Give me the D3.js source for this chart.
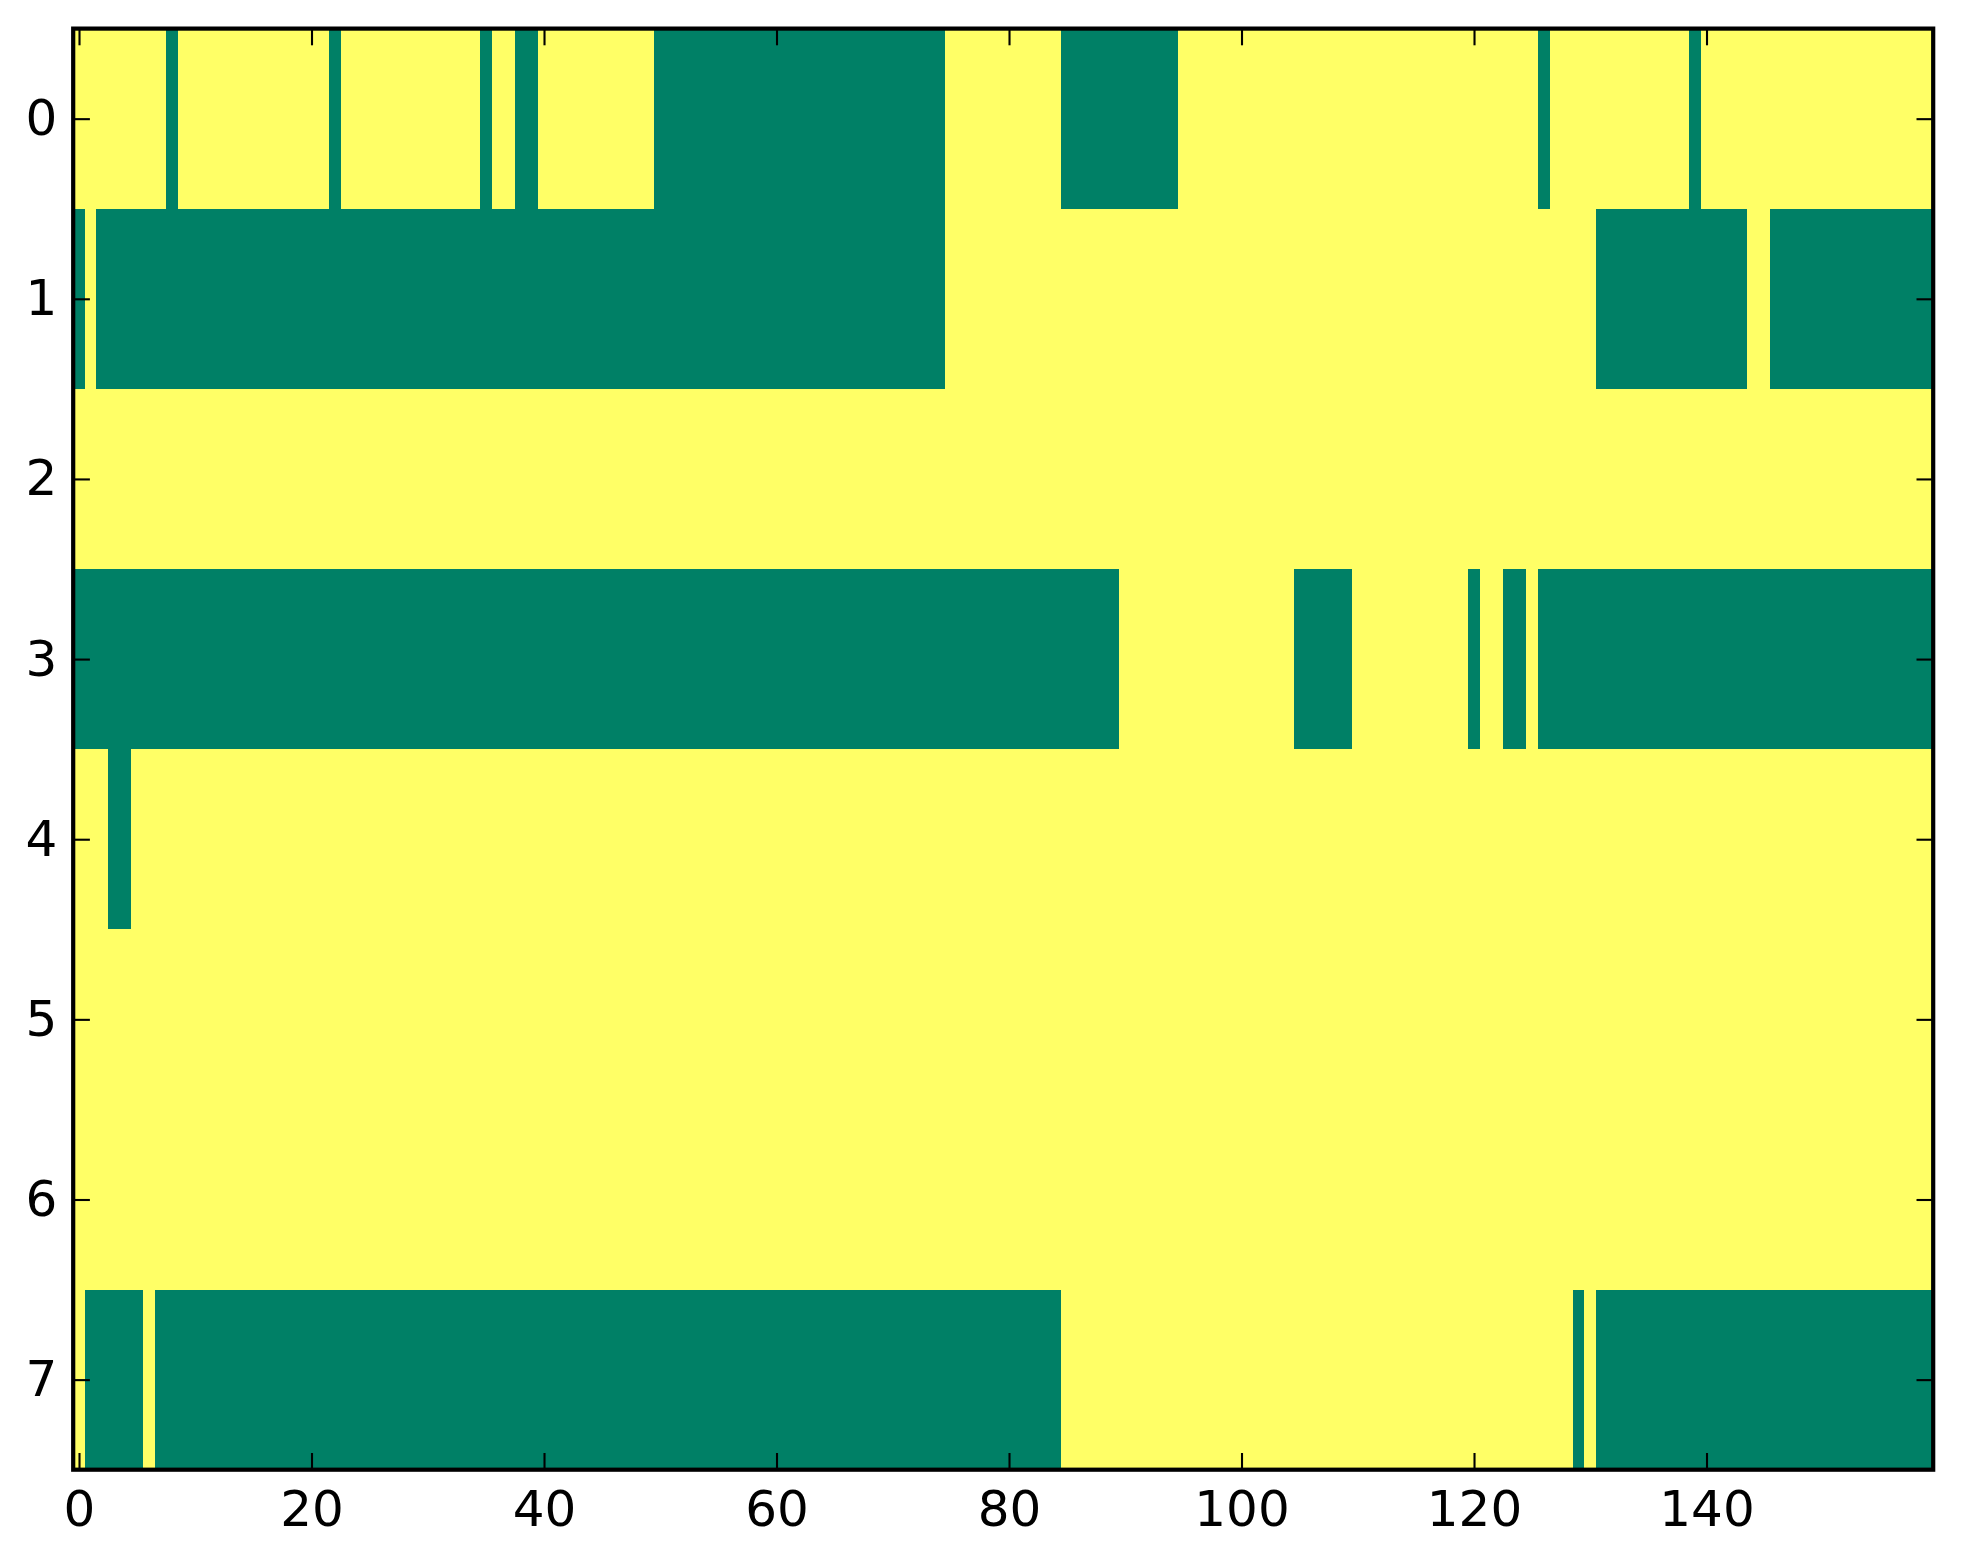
<!DOCTYPE html>
<html>
<head>
<meta charset="utf-8">
<script src="https://cdn.jsdelivr.net/npm/d3@7"></script>
<style>
  body { margin: 0; background: #ffffff; }
  text { font-family: "DejaVu Sans", sans-serif; }
</style>
</head>
<body>
<div id="chart"></div>
<script>
// Matrix size
var nRows = 8;
var nCols = 160;

// Tick labels
var xTicks = [0, 20, 40, 60, 80, 100, 120, 140];
var yTicks = [0, 1, 2, 3, 4, 5, 6, 7];

// Cells equal to 0 (green), as [first, last] column runs per row; everything else is 1 (yellow)
var row0Runs = [[8, 8], [22, 22], [35, 35], [38, 39], [50, 74], [85, 94], [126, 126], [139, 139]];
var row1Runs = [[0, 0], [2, 74], [131, 143], [146, 159]];
var row2Runs = [];
var row3Runs = [[0, 89], [105, 109], [120, 120], [123, 124], [126, 159]];
var row4Runs = [[3, 4]];
var row5Runs = [];
var row6Runs = [];
var row7Runs = [[1, 5], [7, 84], [129, 129], [131, 159]];

var allRuns = [row0Runs, row1Runs, row2Runs, row3Runs, row4Runs, row5Runs, row6Runs, row7Runs];

// Build the cell list from the runs
var cells = [];
allRuns.forEach(function(runs, r) {
  for (var c = 0; c < nCols; c++) {
    var v = 1;
    runs.forEach(function(run) {
      if (c >= run[0] && c <= run[1]) v = 0;
    });
    cells.push({row: r, col: c, value: v});
  }
});

// SVG size
var svgWidth = 1963;
var svgHeight = 1564;

var plot = {left: 73.2, right: 1933.2, top: 28.6, bottom: 1469.7};

var svg = d3.select("#chart")
  .append("svg")
  .attr("width", svgWidth)
  .attr("height", svgHeight);

svg.append("rect")
  .attr("width", svgWidth)
  .attr("height", svgHeight)
  .attr("fill", "#ffffff");

// Scales
var x = d3.scaleLinear()
  .domain([-0.5, nCols - 0.5])
  .range([plot.left, plot.right]);

var y = d3.scaleLinear()
  .domain([-0.5, nRows - 0.5])
  .range([plot.top, plot.bottom]);

// summer colormap ends
var color = d3.scaleLinear()
  .domain([0, 1])
  .range(["#008066", "#ffff66"]);

// Image cells
svg.append("g")
  .attr("shape-rendering", "crispEdges")
  .selectAll("rect")
  .data(cells)
  .enter()
  .append("rect")
  .attr("x", d => x(d.col - 0.5))
  .attr("y", d => y(d.row - 0.5))
  .attr("width", d => x(d.col + 0.5) - x(d.col - 0.5))
  .attr("height", d => y(d.row + 0.5) - y(d.row - 0.5))
  .attr("fill", d => color(d.value));

var tickLen = 16.7;
var fontSize = 50;

function styleAxis(g) {
  g.select(".domain").remove();
  g.selectAll(".tick line")
    .attr("stroke", "#000")
    .attr("stroke-width", 2.1);
  g.selectAll(".tick text")
    .attr("fill", "#000")
    .style("font-size", fontSize + "px")
    .style("font-family", "'DejaVu Sans', sans-serif");
}

// Bottom axis, ticks inward
var xAxisBottom = svg.append("g")
  .attr("transform", `translate(0, ${plot.bottom})`)
  .call(d3.axisBottom(x).tickValues(xTicks).tickSizeInner(-tickLen).tickSizeOuter(0));
styleAxis(xAxisBottom);
xAxisBottom.selectAll(".tick text")
  .attr("y", 56)
  .attr("dy", null);

// Top axis, ticks only
var xAxisTop = svg.append("g")
  .attr("transform", `translate(0, ${plot.top})`)
  .call(d3.axisTop(x).tickValues(xTicks).tickSizeInner(-tickLen).tickSizeOuter(0).tickFormat(""));
styleAxis(xAxisTop);

// Left axis
var yAxisLeft = svg.append("g")
  .attr("transform", `translate(${plot.left}, 0)`)
  .call(d3.axisLeft(y).tickValues(yTicks).tickSizeInner(-tickLen).tickSizeOuter(0));
styleAxis(yAxisLeft);
yAxisLeft.selectAll(".tick text")
  .attr("x", -16)
  .attr("dy", "0.32em");

// Right axis, ticks only
var yAxisRight = svg.append("g")
  .attr("transform", `translate(${plot.right}, 0)`)
  .call(d3.axisRight(y).tickValues(yTicks).tickSizeInner(-tickLen).tickSizeOuter(0).tickFormat(""));
styleAxis(yAxisRight);

// Frame
svg.append("rect")
  .attr("x", plot.left)
  .attr("y", plot.top)
  .attr("width", plot.right - plot.left)
  .attr("height", plot.bottom - plot.top)
  .attr("fill", "none")
  .attr("stroke", "#000")
  .attr("stroke-width", 4.2);
</script>
</body>
</html>
